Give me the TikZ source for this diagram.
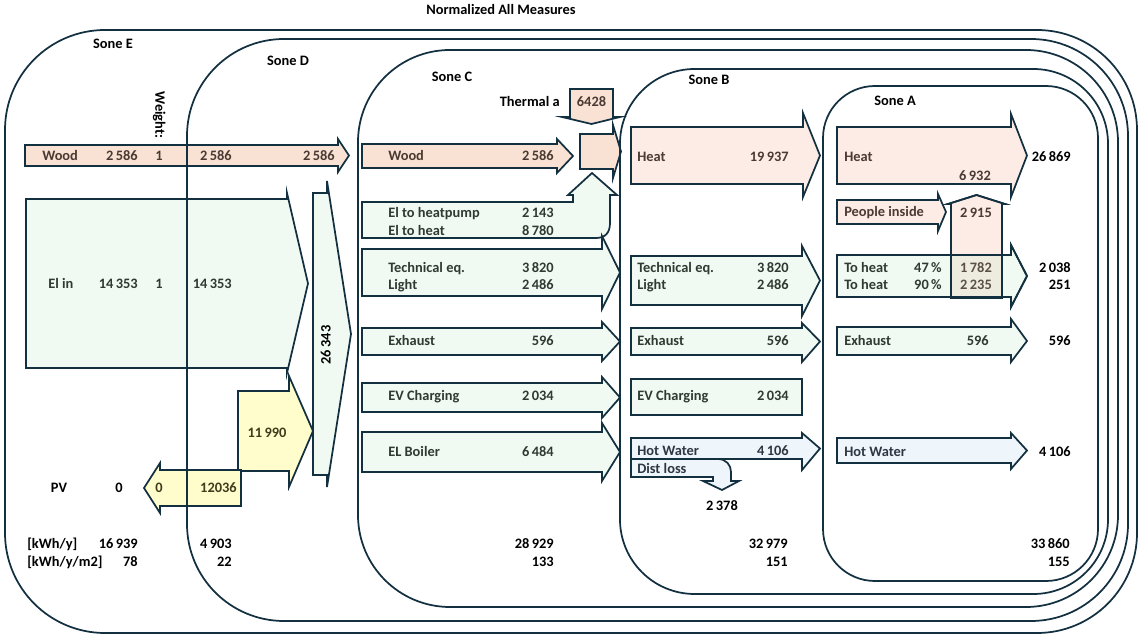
\documentclass[tikz,border=0pt]{standalone}
\usepackage{fontspec}
\setmainfont{Carlito}
\definecolor{outl}{HTML}{133040}
\definecolor{peachA}{HTML}{F9E2D4}
\definecolor{peachB}{HTML}{FCECE5}
\definecolor{mint}{HTML}{F0F9F2}
\definecolor{lemon}{HTML}{FFFDCC}
\definecolor{sky}{HTML}{EEF5FB}
\definecolor{beige}{HTML}{EEEBDF}
\definecolor{txbrown}{HTML}{4A3A33}
\definecolor{txgreen}{HTML}{2F3A33}
\definecolor{txolive}{HTML}{3F3D1C}
\definecolor{txblue}{HTML}{2E3742}
\definecolor{txgray}{HTML}{5A5045}
% right-pointing block arrow:
% #1 style, #2 left x, #3 top y, #4 bottom y, #5 head base x, #6 head top y, #7 head bottom y, #8 tip x
\newcommand\rblock[8]{%
  \draw[#1] (#2,#3) -- (#5,#3) -- (#5,#6) -- (#8,{(#3+#4)/2}) -- (#5,#7) -- (#5,#4) -- (#2,#4) -- cycle;}
\begin{document}
\begin{tikzpicture}[x=0.75pt,y=-0.75pt,
  shp/.style={draw=outl, line width=1.3pt, line join=miter},
  fpeach/.style={shp, fill=peachA},
  fpeachl/.style={shp, fill=peachB},
  fmint/.style={shp, fill=mint},
  flemon/.style={shp, fill=lemon},
  fsky/.style={shp, fill=sky},
  zone/.style={draw=outl, line width=1.3pt},
  tx/.style={font=\fontsize{10.8}{13}\selectfont\bfseries, inner sep=0pt, text height=7pt, text depth=0pt, text=black},
  tbr/.style={tx, text=txbrown},
  tgr/.style={tx, text=txgreen},
  tol/.style={tx, text=txolive},
  tbl/.style={tx, text=txblue},
  tgy/.style={tx, text=txgray},
  L/.style={anchor=west},
  R/.style={anchor=east}]
\useasboundingbox (0,0) rectangle (1140,634);

% ---------- Sone E / D ----------
\rblock{fpeach}{25}{145}{166}{338}{139}{172}{349}
\rblock{fmint}{26}{199}{368}{287}{193}{373}{308}
\rblock{fmint}{313}{193}{475}{327}{181}{487}{351}
\rblock{flemon}{238}{391}{471}{289}{376}{487}{313}
\draw[flemon] (241,470) -- (241,506) -- (160,506) -- (160,513) -- (144,488)
  -- (160,463) -- (160,470) -- cycle;

% ---------- Sone C ----------
\draw[fpeach] (570,89) -- (613,89) -- (613,117) -- (620,117) -- (591.5,124)
  -- (562,117) -- (570,117) -- cycle;
\rblock{fpeach}{362}{144}{168}{557}{139}{173}{573}
\rblock{fpeach}{580}{134}{169}{613}{125}{178}{621}
\draw[fmint] (362,202) -- (573,202) -- (573,195) -- (568,195) -- (592,173)
  -- (617,195) -- (610,195) -- (610,223) .. controls (610,233) and (605,238) .. (596,238)
  -- (362,238) -- cycle;
\rblock{fmint}{362}{249}{296}{602}{236}{309}{620}
\rblock{fmint}{362}{328}{355}{602}{322}{361}{620}
\rblock{fmint}{362}{383}{412}{602}{377}{418}{620}
\rblock{fmint}{362}{432}{472}{602}{423}{481}{620}

% ---------- Sone B ----------
\rblock{fpeachl}{631}{127}{184}{803}{113}{197}{820}
\rblock{fmint}{631}{256}{305}{802}{246}{316}{820}
\rblock{fmint}{631}{328}{355}{802}{323}{362}{820}
\draw[fmint] (631,379) rectangle (802,415);
\rblock{fsky}{631}{438}{459}{802}{433}{470}{820}
\draw[fsky] (631,459) -- (718,459) .. controls (726,459) and (731,465) .. (731,472)
  -- (731,481) -- (739,481) -- (722,490) -- (703,481) -- (713,481) -- (713,477)
  -- (631,477) -- cycle;

% ---------- Sone A ----------
\rblock{fpeachl}{837}{127}{184}{1011}{114}{197}{1027}
\rblock{fpeachl}{837}{200}{224}{938}{194}{231}{946}
\rblock{fmint}{837}{255}{297}{1011}{245}{307}{1027}
\draw[fpeachl] (951,298) -- (951,204) -- (948,204) -- (976.5,195) -- (1005,204)
  -- (1002,204) -- (1002,298) -- cycle;
\fill[beige] (951,255) rectangle (1002,297);
\rblock{shp}{837}{255}{297}{1011}{245}{307}{1027}
\draw[shp] (951,298) -- (951,204) -- (948,204) -- (976.5,195) -- (1005,204)
  -- (1002,204) -- (1002,298) -- cycle;
\rblock{fmint}{837}{327}{355}{1011}{319}{362}{1027}
\rblock{fsky}{837}{438}{463}{1011}{433}{469}{1027}

% ---------- zone outlines ----------
\draw[zone, rounded corners=75pt] (5,30) rectangle (1137,633);
\draw[zone, rounded corners=72.75pt] (187,39) rectangle (1128,621);
\draw[zone, rounded corners=69pt] (358,50) rectangle (1118,607);
\draw[zone, rounded corners=56pt] (620,69) rectangle (1108,594);
\draw[zone, rounded corners=39pt] (823,86) rectangle (1098,581);

% ---------- headings ----------
\node[tx] (title) at (501,10) {Normalized All Measures};
\node[tx] (sE) at (113,44) {Sone E};
\node[tx] (sD) at (288,61) {Sone D};
\node[tx] (sC) at (452,77) {Sone C};
\node[tx] (sB) at (709,80) {Sone B};
\node[tx] (sA) at (895,101) {Sone A};
\node[tx, rotate=-90] (weight) at (160,115) {Weight:};

% ---------- Sone E / D texts ----------
\node[tbr, L] (eWood) at (42,156) {Wood};
\node[tbr, R] (eWoodV) at (138,156) {2\,586};
\node[tbr] (eWoodW) at (159,156) {1};
\node[tbr, R] (dWoodV) at (232,156) {2\,586};
\node[tbr, R] (dWoodO) at (335,156) {2\,586};
\node[tgr, L] (eEl) at (48,284) {El in};
\node[tgr, R] (eElV) at (138,284) {14\,353};
\node[tgr] (eElW) at (159,284) {1};
\node[tgr, R] (dElV) at (232,284) {14\,353};
\node[tx, rotate=90] (dSum) at (326,345) {26\,343};
\node[tol] (dPV) at (267,433) {11\,990};
\node[tx] (ePV) at (59,488) {PV};
\node[tx] (ePVV) at (119,488) {0};
\node[tol] (ePVA) at (159,488) {0};
\node[tol, R] (dPVA) at (237,488) {12036};
\node[tx, L] (eU1) at (27,544) {[kWh/y]};
\node[tx, R] (eV1) at (138,544) {16\,939};
\node[tx, L] (eU2) at (27,562) {[kWh/y/m2]};
\node[tx, R] (eV2) at (138,562) {78};
\node[tx, R] (dV1) at (232,544) {4\,903};
\node[tx, R] (dV2) at (232,562) {22};

% ---------- Sone C texts ----------
\node[tx, R] (cTh) at (560,102) {Thermal a};
\node[tbr] (cThV) at (591.5,102) {6428};
\node[tbr, L] (cWood) at (388,156) {Wood};
\node[tbr, R] (cWoodV) at (554,156) {2\,586};
\node[tgr, L] (cHp) at (388,213) {El to heatpump};
\node[tgr, R] (cHpV) at (554,213) {2\,143};
\node[tgr, L] (cEh) at (388,231) {El to heat};
\node[tgr, R] (cEhV) at (554,231) {8\,780};
\node[tgr, L] (cTe) at (388,268) {Technical eq.};
\node[tgr, R] (cTeV) at (554,268) {3\,820};
\node[tgr, L] (cLi) at (388,285) {Light};
\node[tgr, R] (cLiV) at (554,285) {2\,486};
\node[tgr, L] (cEx) at (388,341) {Exhaust};
\node[tgr, R] (cExV) at (554,341) {596};
\node[tgr, L] (cEv) at (388,396) {EV Charging};
\node[tgr, R] (cEvV) at (554,396) {2\,034};
\node[tgr, L] (cBo) at (388,452) {EL Boiler};
\node[tgr, R] (cBoV) at (554,452) {6\,484};
\node[tx, R] (cV1) at (554,544) {28\,929};
\node[tx, R] (cV2) at (554,562) {133};

% ---------- Sone B texts ----------
\node[tbr, L] (bHeat) at (637,157) {Heat};
\node[tbr, R] (bHeatV) at (789,157) {19\,937};
\node[tgr, L] (bTe) at (637,268) {Technical eq.};
\node[tgr, R] (bTeV) at (789,268) {3\,820};
\node[tgr, L] (bLi) at (637,285) {Light};
\node[tgr, R] (bLiV) at (789,285) {2\,486};
\node[tgr, L] (bEx) at (637,341) {Exhaust};
\node[tgr, R] (bExV) at (789,341) {596};
\node[tgr, L] (bEv) at (637,396) {EV Charging};
\node[tgr, R] (bEvV) at (789,396) {2\,034};
\node[tbl, L] (bHw) at (637,451) {Hot Water};
\node[tbl, R] (bHwV) at (789,451) {4\,106};
\node[tbl, L] (bDl) at (637,469) {Dist loss};
\node[tx] (bDlV) at (722,506) {2\,378};
\node[tx, R] (bV1) at (788,544) {32\,979};
\node[tx, R] (bV2) at (788,562) {151};

% ---------- Sone A texts ----------
\node[tbr, L] (aHeat) at (844,157) {Heat};
\node[tbr] (aHeatIn) at (975,176) {6\,932};
\node[tx, R] (aHeatO) at (1071,157) {26\,869};
\node[tbr, L] (aPe) at (844,212) {People inside};
\node[tbr] (aPeV) at (976,213) {2\,915};
\node[tgr, L] (aT1) at (844,268) {To heat};
\node[tgr, R] (aT1p) at (942,268) {47\,\%};
\node[tgy] (aT1v) at (976,268) {1\,782};
\node[tx, R] (aT1o) at (1071,268) {2\,038};
\node[tgr, L] (aT2) at (844,285) {To heat};
\node[tgr, R] (aT2p) at (942,285) {90\,\%};
\node[tgy] (aT2v) at (976,285) {2\,235};
\node[tx, R] (aT2o) at (1071,285) {251};
\node[tgr, L] (aEx) at (844,341) {Exhaust};
\node[tgr, R] (aExV) at (989,341) {596};
\node[tx, R] (aExO) at (1071,341) {596};
\node[tbl, L] (aHw) at (844,452) {Hot Water};
\node[tx, R] (aHwO) at (1071,452) {4\,106};
\node[tx, R] (aV1) at (1070,544) {33\,860};
\node[tx, R] (aV2) at (1070,562) {155};
\end{tikzpicture}
\end{document}
